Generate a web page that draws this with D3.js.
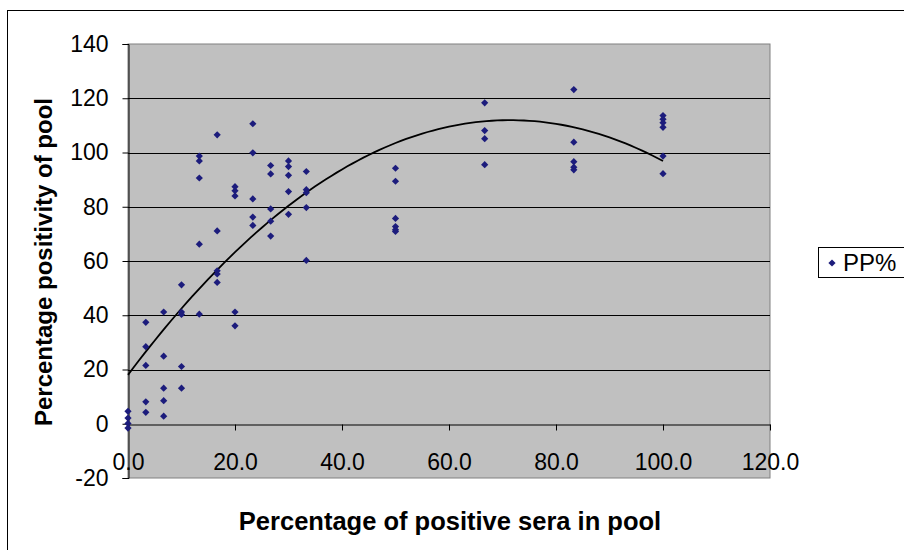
<!DOCTYPE html>
<html>
<head>
<meta charset="utf-8">
<script src="https://cdn.jsdelivr.net/npm/d3@7"></script>
<style>
  html, body { margin: 0; padding: 0; background: #fff; }
  svg { display: block; font-family: "Liberation Sans", Arial, sans-serif; }
</style>
</head>
<body>
<svg id="chart" width="904" height="550"></svg>
<script>
// ---- data ----
const seraLevels = [0, 3.33, 6.67, 10, 13.33, 16.67, 20, 23.33, 26.67, 30, 33.33, 50, 66.67, 83.33, 100];
const ppByLevel = [
  [4.6, 2.1, 0.1, -1.6],
  [37.4, 28.4, 21.5, 8.1, 4.2],
  [41.2, 24.9, 13.1, 8.5, 2.8],
  [51.2, 41.2, 40.3, 21.1, 13.1],
  [98.7, 96.9, 90.6, 66.2, 40.4],
  [106.5, 71.1, 56.4, 55.2, 52.1],
  [87.4, 85.9, 84.0, 41.2, 36.1],
  [110.6, 99.9, 82.9, 76.2, 73.1],
  [95.2, 92.1, 79.2, 74.7, 69.2],
  [96.9, 94.8, 91.6, 85.6, 77.2],
  [93.0, 86.3, 85.2, 79.7, 60.2],
  [94.2, 89.4, 75.7, 72.7, 71.5, 70.9],
  [118.3, 108.1, 105.1, 95.5],
  [123.2, 103.8, 96.6, 94.6, 93.6],
  [113.6, 112.3, 111.0, 109.3, 98.7, 92.2]
];
const xTickValues = [0, 20, 40, 60, 80, 100, 120];
const yTickValues = [-20, 0, 20, 40, 60, 80, 100, 120, 140];
const seriesName = "PP%";
const xTitle = "Percentage of positive sera in pool";
const yTitle = "Percentage positivity of pool";

// flatten into points
const points = [];
seraLevels.forEach((x, i) => ppByLevel[i].forEach(y => points.push({x, y})));

// ---- layout ----
const svg = d3.select("#chart");
const plot = {left: 128, right: 770, top: 44, bottom: 478};
const x = d3.scaleLinear().domain([0, 120]).range([plot.left, plot.right]);
const y = d3.scaleLinear().domain([-20, 140]).range([plot.bottom, plot.top]);
const FONT = "Liberation Sans, Arial, sans-serif";
const hyphenate = f => v => f(v).replace("\u2212", "-");

// outer chart frame (extends beyond right/bottom edges)
svg.append("rect").attr("x", 7.5).attr("y", 10.5).attr("width", 940).attr("height", 600)
  .attr("fill", "#fff").attr("stroke", "#000").attr("stroke-width", 1);

// plot area
svg.append("rect").attr("x", plot.left).attr("y", plot.top)
  .attr("width", plot.right - plot.left).attr("height", plot.bottom - plot.top)
  .attr("fill", "#c0c0c0").attr("stroke", "#808080").attr("stroke-width", 1);

// gridlines
svg.append("g").selectAll("line").data(yTickValues.filter(v => v > 0 && v < 140)).join("line")
  .attr("x1", plot.left).attr("x2", plot.right)
  .attr("y1", d => Math.round(y(d)) + 0.5).attr("y2", d => Math.round(y(d)) + 0.5)
  .attr("stroke", "#000").attr("stroke-width", 1);

// y axis
const yAxis = d3.axisLeft(y).tickValues(yTickValues).tickSize(6).tickPadding(14).tickFormat(hyphenate(d3.format("d")));
const gy = svg.append("g").attr("transform", `translate(${plot.left + 0.5},0)`).call(yAxis);
gy.select(".domain").attr("stroke", "#000");
gy.selectAll(".tick line").attr("stroke", "#000");
gy.selectAll(".tick text").attr("font-size", 23).attr("fill", "#000").attr("font-family", FONT);

// x axis at y=0
const xAxis = d3.axisBottom(x).tickValues(xTickValues).tickSize(6).tickSizeOuter(0).tickPadding(23).tickFormat(d3.format(".1f"));
const gx = svg.append("g").attr("transform", `translate(0,${Math.round(y(0)) + 0.5})`).call(xAxis);
gx.select(".domain").attr("stroke", "#000");
gx.selectAll(".tick line").attr("stroke", "#000");
gx.selectAll(".tick text").attr("font-size", 23).attr("fill", "#000").attr("font-family", FONT);

// ---- quadratic trendline (least squares from the data) ----
function polyFit2(pts) {
  let n = pts.length, sx = 0, sx2 = 0, sx3 = 0, sx4 = 0, sy = 0, sxy = 0, sx2y = 0;
  pts.forEach(p => {
    const a = p.x, b = p.y;
    sx += a; sx2 += a * a; sx3 += a * a * a; sx4 += a * a * a * a;
    sy += b; sxy += a * b; sx2y += a * a * b;
  });
  const M = [[n, sx, sx2, sy], [sx, sx2, sx3, sxy], [sx2, sx3, sx4, sx2y]];
  for (let i = 0; i < 3; i++) {
    for (let k = i + 1; k < 3; k++) {
      const f = M[k][i] / M[i][i];
      for (let j = i; j < 4; j++) M[k][j] -= f * M[i][j];
    }
  }
  const c = [0, 0, 0];
  for (let i = 2; i >= 0; i--) {
    let s = M[i][3];
    for (let j = i + 1; j < 3; j++) s -= M[i][j] * c[j];
    c[i] = s / M[i][i];
  }
  return c;
}
const coef = polyFit2(points);
const xExtent = d3.extent(points, d => d.x);
const trend = d3.range(xExtent[0], xExtent[1] + 0.001, 1).map(v => ({x: v, y: coef[0] + coef[1] * v + coef[2] * v * v}));
svg.append("path").datum(trend)
  .attr("d", d3.line().x(d => x(d.x)).y(d => y(d.y)))
  .attr("fill", "none").attr("stroke", "#000").attr("stroke-width", 1.8);

// ---- markers (square rotated 45° = Excel diamond) ----
const diamond = d3.symbol().type(d3.symbolSquare).size(26);
svg.append("g").selectAll("path").data(points).join("path")
  .attr("transform", d => `translate(${x(d.x)},${y(d.y)}) rotate(45)`)
  .attr("d", diamond)
  .attr("fill", "#1c1c7c");

// ---- titles ----
svg.append("text").attr("x", 450).attr("y", 530).attr("text-anchor", "middle")
  .attr("font-size", 25.5).attr("font-weight", "bold").attr("font-family", FONT).text(xTitle);
svg.append("text").attr("transform", "translate(52,262) rotate(-90)").attr("text-anchor", "middle")
  .attr("font-size", 24).attr("font-weight", "bold").attr("font-family", FONT).text(yTitle);

// ---- legend ----
const lg = svg.append("g");
lg.append("rect").attr("x", 818.5).attr("y", 247.5).attr("width", 100).attr("height", 30)
  .attr("fill", "#fff").attr("stroke", "#000");
lg.append("path").attr("transform", "translate(832,263) rotate(45)").attr("d", diamond).attr("fill", "#1c1c7c");
lg.append("text").attr("x", 843).attr("y", 271).attr("font-size", 24).attr("font-family", FONT).text(seriesName);
</script>
</body>
</html>
